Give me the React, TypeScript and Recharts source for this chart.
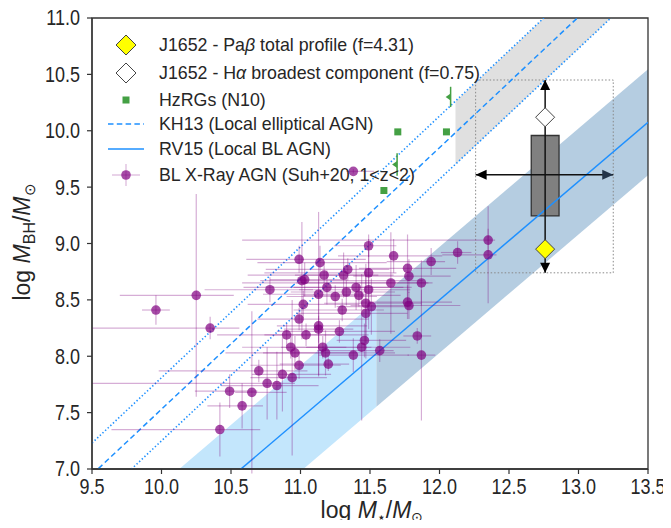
import {
  ComposedChart,
  XAxis,
  YAxis,
  Area,
  Line,
  Scatter,
  ErrorBar,
  ReferenceArea,
  ReferenceLine,
} from "recharts";

const xTicks = [9.5, 10, 10.5, 11, 11.5, 12, 12.5, 13, 13.5];
const yTicks = [7, 7.5, 8, 8.5, 9, 9.5, 10, 10.5, 11];

// BL X-ray AGN (Suh+20, 1<z<2)
const agnMstar = [
  9.96, 10.25, 10.35, 10.78, 10.99, 11.14, 11.01, 11.03, 11.17, 11.13,
  11.19, 11.25, 11.31, 11.34, 11.33, 11.4, 11.49, 11.49, 11.49, 11.42,
  11.47, 11.51, 11.47, 11.3, 11.02, 10.99, 11.13, 11.13, 11.04, 10.9,
  10.93, 10.96, 10.99, 10.94, 10.87, 10.83, 10.76, 10.7, 10.65, 10.49,
  10.58, 10.42, 11.16, 11.18, 11.2, 11.28, 11.38, 11.44, 11.46, 11.57,
  11.67, 11.65, 11.77, 11.78, 11.87, 11.94, 12.13, 12.35, 12.35, 11.77,
  11.78, 11.84, 11.87, 11.38,
];
const agnMbh = [
  8.41, 8.54, 8.25, 8.59, 8.86, 8.83, 8.67, 8.68, 8.72, 8.55,
  8.61, 8.53, 8.72, 8.77, 8.57, 8.61, 8.74, 8.98, 8.59, 8.54,
  8.47, 8.44, 8.38, 8.41, 8.46, 8.33, 8.27, 8.24, 8.19, 8.19,
  8.08, 8.03, 7.92, 7.81, 7.84, 7.74, 7.76, 7.87, 7.68, 7.69,
  7.56, 7.35, 8.08, 8.03, 7.93, 8.22, 8.01, 8.08, 8.14, 8.05,
  8.89, 8.65, 8.78, 8.71, 8.65, 8.84, 8.92, 9.03, 8.9, 8.48,
  8.45, 8.18, 8.01, 9.64,
];
const agnMstarErrLo = [
  0.1, 0.55, 0.85, 0.47, 0.38, 0.45, 0.3, 0.25, 0.55, 0.4,
  0.6, 0.35, 0.35, 0.59, 0.4, 0.45, 0.75, 0.25, 0.5, 0.4,
  0.3, 0.25, 0.5, 0.35, 0.4, 0.3, 0.3, 0.25, 0.3, 0.5,
  0.35, 0.5, 0.35, 0.3, 0.22, 0.4, 1.26, 0.72, 0.12, 0.25,
  0.25, 0.78, 0.3, 0.45, 0.35, 0.45, 0.25, 0.4, 0.2, 0.45,
  0.4, 1.07, 0.35, 0.4, 0.9, 0.32, 0.12, 1.77, 0.33, 0.34,
  0.42, 0.1, 0.1, 0.05,
];
const agnMstarErrHi = [
  0.1, 0.27, 0.21, 0.31, 0.48, 0.48, 0.87, 0.3, 0.5, 0.35,
  0.55, 0.3, 0.25, 0.3, 0.35, 0.4, 0.2, 0.2, 0.3, 0.3,
  0.4, 0.3, 0.3, 0.3, 0.4, 0.5, 0.35, 0.25, 0.45, 0.35,
  0.4, 0.45, 0.3, 0.25, 0.35, 0.3, 0.2, 0.35, 0.25, 0.2,
  0.15, 0.29, 0.35, 0.5, 0.15, 0.4, 0.4, 0.35, 0.3, 0.1,
  0.35, 0.3, 0.35, 0.3, 0.05, 0.1, 0.1, 0.05, 0.06, 0.32,
  0.37, 0.1, 0.1, 0.15,
];
const agnMbhErr = [
  0.13, 0.9, 0.1, 0.11, 0.12, 0.15, 0.52, 0.15, 0.12, 0.73,
  0.15, 0.1, 0.2, 0.1, 0.12, 0.2, 0.3, 0.1, 0.35, 0.1,
  0.35, 0.25, 0.4, 0.1, 0.12, 0.1, 0.44, 0.12, 0.1, 0.1,
  0.1, 0.15, 0.12, 0.69, 0.33, 0.3, 0.32, 0.1, 0.72, 0.15,
  0.2, 0.24, 0.1, 0.2, 0.06, 0.1, 0.15, 0.65, 0.15, 0.1,
  0.15, 0.45, 0.3, 0.15, 0.2, 0.12, 0.1, 0.1, 0.43, 0.15,
  0.12, 0.07, 0.58, 0.02,
];

// HzRGs (N10)
const hzrgMstar = [11.6, 11.7, 12.05];
const hzrgMbh = [9.47, 9.99, 9.99];
const hzrgLimMstar = [11.695, 12.08];
const hzrgLimMbh = [9.7, 10.3];
const hzrgLimErr = [0.1, 0.09];

// KH13 relation and its scatter
const kh13Mstar = [9.5, 13.5];
const kh13Mbh = [6.95, 11.59];
const kh13Upper = [7.23, 11.87];
const kh13Lower = [6.67, 11.31];
const kh13BandMstar = [12.115, 13.5];
const kh13BandLo = [9.7, 11.31];
const kh13BandHi = [10.26, 11.87];

// RV15 relation and scatter bands
const rv15Mstar = [9.5, 13.5];
const rv15Mbh = [5.875, 10.075];
const rv15LightMstar = [9.9, 11.546];
const rv15LightLo = [5.82, 7.553];
const rv15LightHi = [6.76, 8.493];
const rv15DarkMstar = [11.546, 13.5];
const rv15DarkLo = [7.553, 9.605];
const rv15DarkHi = [8.493, 10.545];

// J1652
const j1652Mstar = 12.76;
const j1652BoxMstar = [12.66, 12.86];
const j1652BoxMbh = [9.245, 9.958];
const j1652RangeMstar = [12.26, 13.25];
const j1652RangeMbh = [8.74, 10.45];
const j1652WhiskerMbh = 9.61;
const j1652PabMbh = 8.95;
const j1652HaMbh = 10.12;

const agnData = agnMstar.map((m, i) => ({
  m,
  v: agnMbh[i],
  ex: [agnMstarErrLo[i], agnMstarErrHi[i]],
  ey: agnMbhErr[i],
}));
const hzrgData = hzrgMstar.map((m, i) => ({ m, v: hzrgMbh[i] }));
const hzrgLimData = hzrgLimMstar.map((m, i) => ({ m, v: hzrgLimMbh[i], ey: hzrgLimErr[i] }));
const kh13Data = kh13Mstar.map((m, i) => ({ m, v: kh13Mbh[i], up: kh13Upper[i], lo: kh13Lower[i] }));
const kh13Band = kh13BandMstar.map((m, i) => ({ m, range: [kh13BandLo[i], kh13BandHi[i]] }));
const rv15Data = rv15Mstar.map((m, i) => ({ m, v: rv15Mbh[i] }));
const rv15Light = rv15LightMstar.map((m, i) => ({ m, range: [rv15LightLo[i], rv15LightHi[i]] }));
const rv15Dark = rv15DarkMstar.map((m, i) => ({ m, range: [rv15DarkLo[i], rv15DarkHi[i]] }));
const pabData = [{ m: j1652Mstar, v: j1652PabMbh }];
const haData = [{ m: j1652Mstar, v: j1652HaMbh }];
const arrowData = [
  { m: j1652Mstar, v: j1652RangeMbh[1], dir: "up" },
  { m: j1652Mstar, v: j1652RangeMbh[0], dir: "down" },
  { m: j1652RangeMstar[0], v: j1652WhiskerMbh, dir: "left" },
  { m: j1652RangeMstar[1], v: j1652WhiskerMbh, dir: "right" },
];

const BLUE = "#1e90ff";
const PURPLE = "#800080";
const GREEN = "#44a044";
const AXIS = "#333333";
const TEXT = "#262626";
const FONT = "'Liberation Sans', Arial, sans-serif";

// tick labels in the reference are a bit taller than wide: stretch around the baseline
const XTick = ({ x, y, payload }: any) => {
  const by = y + 18;
  return (
    <text
      x={x}
      y={by}
      transform={`matrix(1,0,0,1.2,0,${-0.2 * by})`}
      textAnchor="middle"
      fontSize={18}
      fontFamily={FONT}
      fill={TEXT}
    >
      {payload.value.toFixed(1)}
    </text>
  );
};

const YTick = ({ x, y, payload }: any) => {
  const by = y + 7.5;
  return (
    <text
      x={x - 5}
      y={by}
      transform={`matrix(1,0,0,1.2,0,${-0.2 * by})`}
      textAnchor="end"
      fontSize={18}
      fontFamily={FONT}
      fill={TEXT}
    >
      {payload.value.toFixed(1)}
    </text>
  );
};

const Dot = ({ cx, cy }: any) => <circle cx={cx} cy={cy} r={4.8} fill={PURPLE} fillOpacity={0.7} />;
const Square = ({ cx, cy }: any) => <rect x={cx - 3.5} y={cy - 3.5} width={7} height={7} fill={GREEN} />;
const LeftCaret = ({ cx, cy }: any) => (
  <polygon points={`${cx - 5},${cy} ${cx},${cy - 3.5} ${cx},${cy + 3.5}`} fill={GREEN} />
);
const diamond = (fill: string) => ({ cx, cy }: any) => (
  <polygon
    points={`${cx},${cy - 9.5} ${cx + 9.5},${cy} ${cx},${cy + 9.5} ${cx - 9.5},${cy}`}
    fill={fill}
    stroke="#444"
    strokeWidth={1}
  />
);
const Arrow = ({ cx, cy, payload }: any) => {
  const d = payload.dir;
  let pts = "";
  if (d === "up") pts = `${cx},${cy} ${cx - 5},${cy + 10} ${cx + 5},${cy + 10}`;
  if (d === "down") pts = `${cx},${cy} ${cx - 5},${cy - 10} ${cx + 5},${cy - 10}`;
  if (d === "left") pts = `${cx},${cy} ${cx + 11},${cy - 5} ${cx + 11},${cy + 5}`;
  if (d === "right") pts = `${cx},${cy} ${cx - 11},${cy - 5} ${cx - 11},${cy + 5}`;
  return <polygon points={pts} fill={d === "right" ? "#22344a" : "#000"} />;
};

// legend rows, in page pixels
const legendRows = [45, 73, 100, 124, 149, 175];

const Legend = () => {
  const mx = 126;
  const tx = 159;
  const ts = { fontSize: 17.8, fontFamily: FONT, fill: TEXT } as const;
  return (
    <g>
      <polygon points={`${mx},${legendRows[0] - 10} ${mx + 10},${legendRows[0]} ${mx},${legendRows[0] + 10} ${mx - 10},${legendRows[0]}`} fill="#ffff00" stroke="#444" />
      <text x={tx} y={legendRows[0] + 6} {...ts}>
        J1652 - Pa<tspan fontStyle="italic">β</tspan> total profile (f=4.31)
      </text>
      <polygon points={`${mx},${legendRows[1] - 10} ${mx + 10},${legendRows[1]} ${mx},${legendRows[1] + 10} ${mx - 10},${legendRows[1]}`} fill="#fff" stroke="#444" />
      <text x={tx} y={legendRows[1] + 6} {...ts}>
        J1652 - H<tspan fontStyle="italic">α</tspan> broadest component (f=0.75)
      </text>
      <rect x={mx - 3.5} y={legendRows[2] - 3.5} width={7} height={7} fill={GREEN} />
      <text x={tx} y={legendRows[2] + 6} {...ts}>HzRGs (N10)</text>
      <line x1={mx - 18} x2={mx + 18} y1={legendRows[3]} y2={legendRows[3]} stroke={BLUE} strokeWidth={1.5} strokeDasharray="5.5 3.3" />
      <text x={tx} y={legendRows[3] + 6} {...ts}>KH13 (Local elliptical AGN)</text>
      <line x1={mx - 18} x2={mx + 18} y1={legendRows[4]} y2={legendRows[4]} stroke={BLUE} strokeWidth={1.5} />
      <text x={tx} y={legendRows[4] + 6} {...ts}>RV15 (Local BL AGN)</text>
      <line x1={mx - 14} x2={mx + 14} y1={legendRows[5]} y2={legendRows[5]} stroke={PURPLE} strokeOpacity={0.35} />
      <line x1={mx} x2={mx} y1={legendRows[5] - 11} y2={legendRows[5] + 11} stroke={PURPLE} strokeOpacity={0.35} />
      <circle cx={mx} cy={legendRows[5]} r={4.8} fill={PURPLE} fillOpacity={0.7} />
      <text x={tx} y={legendRows[5] + 6} {...ts}>BL X-Ray AGN (Suh+20, 1&lt;z&lt;2)</text>
    </g>
  );
};

const AxisLabels = () => (
  <g fontFamily={FONT} fill={TEXT}>
    <text transform="translate(30,242) rotate(-90)" textAnchor="middle" fontSize={23}>
      log <tspan fontStyle="italic">M</tspan>
      <tspan fontSize={16} dy={5}>BH</tspan>
      <tspan dy={-5}>/</tspan>
      <tspan fontStyle="italic">M</tspan>
      <tspan fontSize={15} dy={5}>⊙</tspan>
    </text>
    <text x={372} y={518} textAnchor="middle" fontSize={23}>
      log  <tspan fontStyle="italic">M</tspan>
      <tspan fontSize={14} dy={4}>⋆</tspan>
      <tspan dy={-4}>/</tspan>
      <tspan fontStyle="italic">M</tspan>
      <tspan fontSize={14} dy={4}>⊙</tspan>
    </text>
  </g>
);

export default function App() {
  return (
    <div style={{ position: "relative", width: 671, height: 528, margin: -8, background: "#fff" }}>
      <ComposedChart width={671} height={528} margin={{ top: 18, right: 23, bottom: 0, left: 0 }}>
        <XAxis
          type="number"
          dataKey="m"
          domain={[9.5, 13.5]}
          ticks={xTicks}
          allowDataOverflow
          height={59}
          tickSize={5}
          tick={<XTick />}
          axisLine={{ stroke: AXIS, strokeWidth: 1.3 }}
          tickLine={{ stroke: AXIS, strokeWidth: 1.2 }}
        />
        <YAxis
          type="number"
          dataKey="v"
          domain={[7, 11]}
          ticks={yTicks}
          allowDataOverflow
          width={92}
          tickSize={5}
          tick={<YTick />}
          axisLine={{ stroke: AXIS, strokeWidth: 1.3 }}
          tickLine={{ stroke: AXIS, strokeWidth: 1.2 }}
        />
        <Area data={rv15Light} dataKey="range" type="linear" stroke="none" fill="#c3e6fc" fillOpacity={1} isAnimationActive={false} />
        <Area data={rv15Dark} dataKey="range" type="linear" stroke="none" fill="#b5cde1" fillOpacity={1} isAnimationActive={false} />
        <Area data={kh13Band} dataKey="range" type="linear" stroke="none" fill="#e0e0e0" fillOpacity={1} isAnimationActive={false} />
        <Line data={kh13Data} dataKey="v" type="linear" stroke={BLUE} strokeWidth={1.5} strokeDasharray="5.5 3.3" dot={false} isAnimationActive={false} />
        <Line data={kh13Data} dataKey="up" type="linear" stroke={BLUE} strokeWidth={1.6} strokeDasharray="1.4 2.2" dot={false} isAnimationActive={false} />
        <Line data={kh13Data} dataKey="lo" type="linear" stroke={BLUE} strokeWidth={1.6} strokeDasharray="1.4 2.2" dot={false} isAnimationActive={false} />
        <Line data={rv15Data} dataKey="v" type="linear" stroke={BLUE} strokeWidth={1.5} dot={false} isAnimationActive={false} />
        <ReferenceArea
          x1={j1652RangeMstar[0]}
          x2={j1652RangeMstar[1]}
          y1={j1652RangeMbh[0]}
          y2={j1652RangeMbh[1]}
          fill="none"
          stroke="#888"
          strokeWidth={1}
          strokeDasharray="1.5 2"
        />
        <Scatter data={agnData} shape={<Dot />} isAnimationActive={false}>
          <ErrorBar dataKey="ex" direction="x" width={0} stroke={PURPLE} strokeOpacity={0.32} strokeWidth={1.2} />
          <ErrorBar dataKey="ey" direction="y" width={0} stroke={PURPLE} strokeOpacity={0.32} strokeWidth={1.2} />
        </Scatter>
        <Scatter data={hzrgData} shape={<Square />} isAnimationActive={false} />
        <Scatter data={hzrgLimData} shape={<LeftCaret />} isAnimationActive={false}>
          <ErrorBar dataKey="ey" direction="y" width={0} stroke={GREEN} strokeWidth={1.5} />
        </Scatter>
        <ReferenceLine
          segment={[{ x: j1652Mstar, y: j1652RangeMbh[0] }, { x: j1652Mstar, y: j1652RangeMbh[1] }]}
          stroke="#111"
          strokeWidth={1.5}
        />
        <ReferenceLine
          segment={[{ x: j1652RangeMstar[0], y: j1652WhiskerMbh }, { x: j1652RangeMstar[1], y: j1652WhiskerMbh }]}
          stroke="#111"
          strokeWidth={1.5}
        />
        <ReferenceArea
          x1={j1652BoxMstar[0]}
          x2={j1652BoxMstar[1]}
          y1={j1652BoxMbh[0]}
          y2={j1652BoxMbh[1]}
          fill="#808080"
          fillOpacity={1}
          stroke="#333"
          strokeWidth={1.3}
        />
        <Scatter data={arrowData} shape={<Arrow />} isAnimationActive={false} />
        <Scatter data={haData} shape={diamond("#ffffff")} isAnimationActive={false} />
        <Scatter data={pabData} shape={diamond("#ffff00")} isAnimationActive={false} />
        <ReferenceArea x1={9.5} x2={13.5} y1={7} y2={11} fill="none" stroke={AXIS} strokeWidth={1.3} />
      </ComposedChart>
      <svg width={671} height={528} style={{ position: "absolute", left: 0, top: 0, pointerEvents: "none" }}>
        <Legend />
        <AxisLabels />
      </svg>
    </div>
  );
}
